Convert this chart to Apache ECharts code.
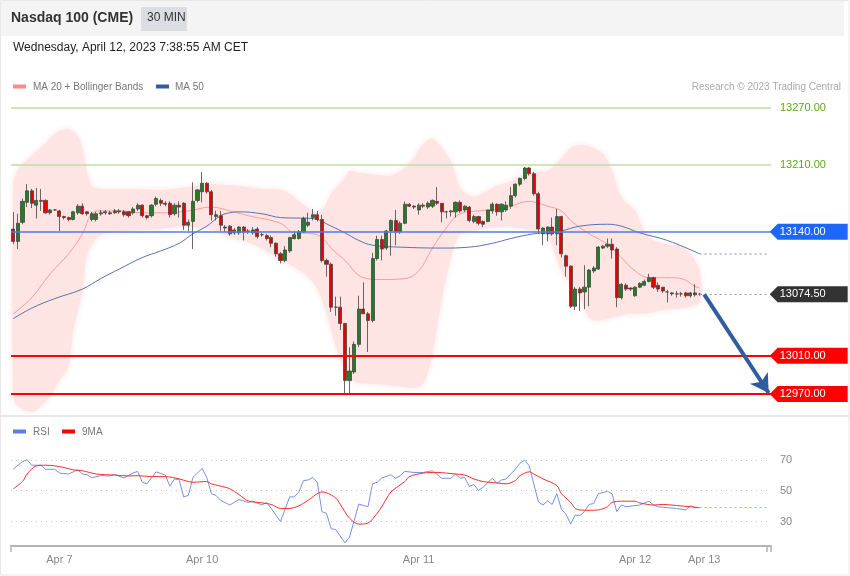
<!DOCTYPE html>
<html><head><meta charset="utf-8">
<script src="https://cdn.jsdelivr.net/npm/echarts@6/dist/echarts.min.js"></script>
<style>html,body{margin:0;padding:0;background:#fff}#c{width:850px;height:576px}</style>
</head><body><div id="c"></div><script>
// ---- candle data (30 min) ----
const opens = [13143,13130,13150,13171,13183,13168,13172,13173,13160,13163,13162,13156,13155,13153,13160,13167,13161,13153,13153,13159,13160,13160,13160,13162,13161,13161,13160,13164,13168,13157,
13157,13169,13173,13170,13170,13159,13168,13170,13147,13151,13173,13182,13191,13182,13156,13157,13145,13146,13139,13139,13145,13140,13139,13143,13137,13136,13134,13128,13117,13110,
13120,13133,13133,13140,13147,13155,13158,13153,13110,13106,13061,13061,13044,12984,12993,13022,13059,13054,13047,13112,13132,13123,13141,13152,13140,13149,13169,13167,13163,13168,
13166,13167,13172,13170,13161,13161,13161,13171,13163,13166,13151,13156,13151,13151,13162,13169,13161,13163,13167,13178,13190,13196,13207,13201,13180,13138,13138,13145,13138,13156,
13115,13104,13062,13080,13077,13082,13099,13101,13123,13125,13127,13122,13071,13084,13081,13073,13082,13084,13088,13092,13084,13082,13077,13076,13075,13075,13076,13073,13076,13074.5];
const closes = [13130,13149,13172,13183,13170,13173,13173,13160,13163,13163,13156,13155,13153,13161,13167,13159,13159,13159,13159,13160,13161,13159,13162,13161,13158,13157,13164,13168,13157,13155,
13168,13175,13170,13169,13158,13168,13166,13147,13150,13172,13184,13191,13182,13158,13158,13147,13144,13138,13142,13145,13140,13141,13142,13135,13137,13133,13128,13117,13110,13121,
13134,13137,13140,13154,13150,13158,13153,13110,13106,13061,13061,13044,12984,12994,13022,13059,13054,13047,13112,13132,13122,13141,13152,13140,13149,13169,13167,13166,13168,13167,
13170,13173,13170,13161,13161,13162,13171,13162,13167,13152,13156,13149,13148,13163,13169,13161,13169,13168,13178,13190,13196,13207,13201,13180,13143,13144,13145,13138,13156,13117,
13104,13062,13080,13076,13082,13100,13102,13124,13125,13127,13121,13071,13085,13080,13080,13082,13086,13088,13092,13082,13080,13078,13077,13075,13075,13075,13073,13076,13074,13074.5];
const highs = [13161,13159,13175,13190,13185,13186,13185,13174,13164,13164,13163,13157,13156,13162,13169,13170,13162,13161,13161,13163,13163,13162,13164,13164,13163,13162,13166,13170,13169,13158,
13169,13177,13175,13172,13172,13170,13172,13171,13153,13192,13185,13203,13192,13184,13162,13162,13147,13147,13144,13146,13146,13143,13145,13145,13139,13138,13136,13129,13119,13125,
13135,13141,13142,13156,13160,13164,13162,13158,13112,13108,13072,13072,13044,13019,13025,13073,13087,13056,13118,13136,13136,13142,13153,13163,13151,13172,13170,13168,13170,13170,
13172,13174,13187,13170,13162,13163,13172,13173,13168,13167,13158,13157,13152,13163,13171,13170,13170,13172,13187,13191,13197,13208,13208,13203,13182,13145,13146,13155,13164,13157,
13116,13105,13082,13082,13105,13101,13104,13125,13126,13133,13133,13124,13086,13086,13082,13083,13087,13090,13096,13093,13087,13082,13079,13077,13078,13077,13077,13077,13085,13076];
const lows = [13127,13122,13148,13166,13165,13154,13162,13159,13158,13162,13141,13153,13151,13152,13158,13158,13157,13151,13151,13157,13158,13158,13159,13159,13156,13155,13158,13162,13155,13153,
13155,13167,13167,13167,13155,13157,13155,13142,13141,13122,13171,13171,13180,13152,13152,13141,13140,13136,13137,13137,13131,13138,13137,13133,13135,13131,13124,13114,13107,13108,
13118,13132,13132,13139,13145,13152,13151,13108,13093,13056,13052,13037,12969,12970,12991,13019,13054,13014,13045,13110,13110,13121,13115,13126,13138,13148,13166,13164,13158,13165,
13164,13165,13168,13150,13154,13156,13155,13160,13161,13150,13149,13147,13145,13150,13159,13157,13152,13161,13164,13176,13188,13194,13199,13178,13138,13126,13130,13136,13126,13113,
13093,13060,13058,13057,13059,13062,13097,13100,13122,13123,13112,13061,13069,13078,13078,13072,13081,13083,13087,13080,13077,13076,13066,13073,13071,13072,13071,13071,13072,13073];

// ---- indicators [candle index, value] ----
const bbUpper = [[0,13190],[1,13205],[4,13220],[7,13233],[9,13243],[12,13248],[14,13240],[15,13228],[16,13203],[17,13188],[19,13185],[25,13185],[32,13184],[38,13187],[43,13190],[49,13188],[54,13185],[58,13184],[60,13180],[62,13172],[65,13162],[67,13162],[69,13180],[72,13197],[73,13204],[75,13202],[80,13199],[82,13199],[85,13207],[87,13218],[89,13232],[91,13238],[93,13228],[95,13214],[97,13186],[99,13178],[101,13178],[105,13188],[108,13193],[112,13202],[116,13204],[119,13217],[121,13228],[123,13231],[125,13230],[128,13222],[130,13204],[132,13176],[135,13162],[137,13141],[139,13131],[142,13127],[145,13125],[147,13117],[149,13099]];
const bbLower = [[0,12968],[1,12957],[4,12951],[6,12957],[8,12968],[10,12984],[12,12999],[13,13036],[15,13078],[16,13115],[18,13133],[20,13139],[25,13141],[32,13143],[36,13146],[41,13144],[44,13141],[47,13135],[51,13129],[55,13120],[58,13110],[60,13106],[62,13100],[64,13093],[66,13080],[68,13055],[70,13020],[72,12995],[74,12983],[76,12981],[80,12980],[84,12978],[87,12976],[89,12981],[91,13012],[93,13068],[95,13113],[97,13138],[100,13141],[103,13144],[107,13146],[110,13144],[113,13141],[116,13136],[119,13099],[123,13071],[125,13050],[127,13047],[130,13050],[134,13054],[138,13055],[141,13058],[145,13060],[149,13066]];
const ma20 = [[0,13054],[4,13071],[8,13096],[12,13117],[15,13138],[17,13159],[19,13162],[23,13162],[28,13160],[33,13160],[38,13162],[43,13166],[47,13162],[51,13157],[58,13149],[61,13139],[65,13138],[67,13134],[69,13123],[72,13110],[76,13092],[80,13090],[85,13091],[88,13099],[91,13123],[94,13144],[97,13159],[101,13162],[106,13164],[108,13167],[112,13172],[114,13170],[116,13167],[119,13162],[121,13152],[125,13138],[129,13127],[132,13113],[135,13099],[138,13092],[142,13092],[145,13091],[148,13083],[149,13081]];
const ma50 = [[0,13049],[4,13060],[9,13070],[15,13080],[19,13091],[23,13101],[28,13113],[32,13120],[36,13128],[39,13138],[42,13146],[45,13157],[47,13160],[49,13161],[54,13159],[58,13155],[65,13154],[69,13146],[72,13139],[75,13131],[78,13126],[84,13124],[93,13123],[99,13124],[104,13128],[108,13133],[113,13138],[116,13139],[119,13141],[123,13146],[129,13148],[132,13146],[136,13139],[142,13131],[149,13117]];
const rsi = [[0,64.0],[1,66.6],[2,68.9],[3,70.2],[4,66.6],[6,66.6],[7,64.0],[9,64.0],[10,61.5],[12,60.9],[14,63.6],[15,60.9],[16,60.4],[17,58.5],[19,59.8],[21,59.6],[22,60.6],[24,58.3],[26,61.5],[27,62.6],[28,55.5],[29,54.5],[31,62.3],[33,60.2],[34,53.0],[35,57.7],[36,57.2],[37,46.0],[38,47.0],[39,58.7],[41,64.5],[42,58.7],[43,48.1],[44,47.0],[45,43.8],[47,40.7],[49,44.3],[51,42.4],[52,43.2],[54,40.7],[55,42.4],[56,38.5],[58,30.0],[60,46.0],[61,46.0],[62,49.2],[63,56.6],[64,57.0],[65,58.7],[66,55.5],[67,36.4],[68,35.3],[69,25.3],[70,24.7],[72,16.2],[73,19.8],[75,41.3],[77,39.6],[78,54.5],[79,55.5],[80,58.3],[82,60.4],[83,58.1],[84,59.8],[85,62.6],[87,61.9],[89,61.9],[91,63.0],[93,58.1],[95,58.1],[96,60.9],[97,58.1],[98,58.7],[99,52.8],[100,54.1],[101,50.2],[102,52.3],[104,58.1],[105,54.9],[106,57.0],[107,57.7],[109,64.0],[110,67.9],[111,70.0],[112,66.2],[114,42.8],[115,40.7],[116,43.4],[117,41.1],[118,48.1],[119,37.9],[120,34.7],[121,28.3],[122,34.3],[123,33.8],[124,36.4],[125,41.1],[126,41.7],[127,48.1],[129,49.6],[130,48.1],[131,36.4],[132,40.7],[133,39.6],[136,40.7],[138,43.2],[139,40.7],[140,39.6],[142,39.0],[144,38.5],[146,37.5],[147,40.2],[148,39.0],[149,39.0]];
const rsiMA9 = [[0,51.3],[2,56.0],[3,60.9],[5,66.2],[7,66.6],[9,66.2],[11,65.1],[13,63.6],[15,63.0],[18,60.9],[22,60.2],[25,59.6],[27,59.8],[30,59.2],[33,59.2],[36,57.7],[39,55.5],[42,56.0],[43,54.5],[46,52.3],[47,51.3],[49,47.5],[51,43.4],[54,42.1],[56,41.1],[58,38.5],[60,38.5],[62,40.2],[64,43.8],[67,49.2],[68,48.7],[70,45.3],[71,41.1],[73,32.1],[75,28.3],[77,29.0],[79,35.3],[80,39.6],[82,49.2],[85,56.0],[86,59.2],[89,61.5],[92,61.9],[94,61.5],[96,60.9],[98,60.2],[100,57.7],[102,56.0],[105,55.1],[107,54.5],[109,56.6],[110,59.8],[112,62.3],[113,60.9],[115,57.7],[118,53.4],[119,48.1],[121,42.4],[122,38.5],[123,37.5],[125,37.3],[127,37.5],[129,39.6],[130,42.4],[132,43.2],[135,43.2],[136,42.1],[139,40.7],[141,41.1],[144,40.4],[147,39.6],[149,39.0]];

// ---- levels and ticks ----
const resistLevels = [13270, 13210];
const pivotLevel = 13140;
const supportLevels = [13010, 12970];
const targetLevel = 12971;
const rsiLevels = [70, 50, 30];
const tickIndex = [10, 41, 88, 135, 150];
const tickLabels = ['Apr 7', 'Apr 10', 'Apr 11', 'Apr 12', 'Apr 13'];
const slotCount = 165;

const lastIdx = closes.length - 1;
const lastIdxAxis = slotCount - 1;
const lastPrice = closes[lastIdx];
const categories = [];
for (let i = 0; i < slotCount; i++) {
  const k = tickIndex.indexOf(i);
  categories.push(k >= 0 ? tickLabels[k] : 'c' + i);
}
const candleData = opens.map((o, i) => [o, closes[i], lows[i], highs[i]]);
const fmt = v => v.toFixed(2);
const FF = 'Liberation Sans, Arial, sans-serif';
const tagPath = 'path://M0,8L8,0L78,0L78,16L8,16Z';
function tag(val, color) {
  return { coord: [lastIdxAxis, val], symbol: tagPath, symbolSize: [78, 16], symbolOffset: [40, 0],
    itemStyle: { color: color },
    label: { show: true, position: 'inside', offset: [-6, 0], formatter: fmt(val), color: '#fff',
      fontSize: 11, fontFamily: FF } };
}

const chart = echarts.init(document.getElementById('c'), null, { renderer: 'canvas' });
const option = {
  animation: false,
  backgroundColor: '#fff',
  grid: [
    { left: 11, width: 760, top: 98.4, height: 314.6 },
    { left: 11, width: 760, top: 429.25, height: 116.75 }
  ],
  xAxis: [
    { type: 'category', gridIndex: 0, data: categories, boundaryGap: true, show: false },
    { type: 'category', gridIndex: 1, data: categories, boundaryGap: true,
      axisLine: { show: true, lineStyle: { color: '#b5b5b5', width: 2 } },
      axisTick: { show: true, length: 6, lineStyle: { color: '#b5b5b5', width: 1.5 },
        interval: (i) => i === 0 || i === lastIdxAxis },
      axisLabel: { interval: (i) => tickIndex.indexOf(i) >= 0, color: '#888', fontSize: 11, fontFamily: FF, margin: 8 },
      splitLine: { show: false } }
  ],
  yAxis: [
    { type: 'value', gridIndex: 0, min: 12950, max: 13280, show: false, splitLine: { show: false } },
    { type: 'value', gridIndex: 1, min: 14.06, max: 90, show: false, splitLine: { show: false } }
  ],
  graphic: [
    { type: 'rect', shape: { x: 0.5, y: 0.5, width: 848.5, height: 574.5 }, style: { fill: 'none', stroke: '#e8e8e8' }, z: -10 },
    { type: 'rect', shape: { x: 1, y: 1, width: 843, height: 35 }, style: { fill: '#f4f4f4' }, z: -9 },
    { type: 'line', shape: { x1: 0, y1: 416, x2: 850, y2: 416 }, style: { stroke: '#e8e8e8', lineWidth: 2 }, z: -9 },
    { type: 'text', left: 11, top: 11, style: { text: 'Nasdaq 100 (CME)', font: 'bold 14px ' + FF, fill: '#333' } },
    { type: 'rect', shape: { x: 141, y: 7, width: 46, height: 24 }, style: { fill: '#dcdde2' } },
    { type: 'text', left: 147, top: 12, style: { text: '30 MIN', font: '12px ' + FF, fill: '#333' } },
    { type: 'text', left: 13, top: 42, style: { text: 'Wednesday, April 12, 2023 7:38:55 AM CET', font: '12px ' + FF, fill: '#222' } },
    { type: 'rect', shape: { x: 13, y: 84.5, width: 13, height: 4 }, style: { fill: '#ff8a8a' } },
    { type: 'text', left: 33, top: 82, style: { text: 'MA 20 + Bollinger Bands', font: '10px ' + FF, fill: '#777' } },
    { type: 'rect', shape: { x: 156, y: 84.5, width: 13, height: 4 }, style: { fill: '#2f5d9e' } },
    { type: 'text', left: 175, top: 82, style: { text: 'MA 50', font: '10px ' + FF, fill: '#777' } },
    { type: 'text', right: 9, top: 82, style: { text: 'Research \u00a9 2023 Trading Central', font: '10px ' + FF, fill: '#aaa' } },
    { type: 'rect', shape: { x: 13, y: 429.5, width: 13, height: 4 }, style: { fill: '#5b7fe0' } },
    { type: 'text', left: 33, top: 427, style: { text: 'RSI', font: '10px ' + FF, fill: '#777' } },
    { type: 'rect', shape: { x: 62, y: 429.5, width: 13, height: 4 }, style: { fill: '#ff0000' } },
    { type: 'text', left: 82, top: 427, style: { text: '9MA', font: '10px ' + FF, fill: '#777' } }
  ],
  series: [
    { type: 'custom', name: 'BB', xAxisIndex: 0, yAxisIndex: 0, data: [[0, 13100]], silent: true, z: 1, clip: false,
      renderItem: (params, api) => {
        const pts = bbUpper.map(p => api.coord(p)).concat(bbLower.slice().reverse().map(p => api.coord(p)));
        return { type: 'polygon', shape: { points: pts, smooth: 0.3 },
          style: { fill: '#ffe4e4', shadowBlur: 6, shadowColor: '#ffe4e4' } };
      } },
    { type: 'line', name: 'MA20', xAxisIndex: 0, yAxisIndex: 0, data: ma20, smooth: 0.4, showSymbol: false, z: 3,
      lineStyle: { color: '#ff9a9a', width: 1 } },
    { type: 'line', name: 'MA50', xAxisIndex: 0, yAxisIndex: 0, data: ma50, smooth: 0.4, showSymbol: false, z: 3,
      lineStyle: { color: '#5274b5', width: 1 },
      markLine: { silent: true, symbol: 'none', label: { show: false },
        lineStyle: { color: '#aab4c8', type: [2, 3], width: 1.5 },
        data: [[{ coord: [lastIdx, ma50[ma50.length - 1][1]] }, { coord: [lastIdxAxis, ma50[ma50.length - 1][1]] }]] } },
    { type: 'candlestick', name: 'Price', xAxisIndex: 0, yAxisIndex: 0, data: candleData, barWidth: 3.6, z: 4,
      itemStyle: { color: '#237d23', color0: '#e60000', borderColor: '#444', borderColor0: '#444', borderWidth: 0.8 },
      markLine: { silent: true, symbol: 'none', precision: 2,
        data: [
          ...resistLevels.map(v => ({ yAxis: v, lineStyle: { color: '#bfdda8', width: 1.5, type: 'solid' },
            label: { show: true, position: 'end', distance: 9, formatter: fmt(v), color: '#5aa51a', fontSize: 11, fontFamily: FF } })),
          { yAxis: pivotLevel, lineStyle: { color: '#4f7de6', width: 1.5, type: 'solid' }, label: { show: false } },
          ...supportLevels.map(v => ({ yAxis: v, lineStyle: { color: '#ff0000', width: 2, type: 'solid' }, label: { show: false } })),
          [{ coord: [lastIdx, lastPrice], lineStyle: { color: '#999', type: [2, 3], width: 1 }, label: { show: false } },
           { coord: [lastIdxAxis, lastPrice] }],
          [{ coord: [lastIdx + 1, lastPrice], symbol: 'none', lineStyle: { color: '#2f5d9e', width: 4, type: 'solid' }, label: { show: false } },
           { coord: [lastIdxAxis, targetLevel], symbol: 'arrow', symbolSize: [16, 18] }]
        ] },
      markPoint: { silent: true,
        data: [ tag(pivotLevel, '#1f66ff'), tag(lastPrice, '#333333'), tag(supportLevels[0], '#ff0000'), tag(supportLevels[1], '#ff0000') ] } },
    { type: 'line', name: 'RSI', xAxisIndex: 1, yAxisIndex: 1, data: rsi, showSymbol: false, z: 3,
      lineStyle: { color: '#7592ea', width: 1 },
      markLine: { silent: true, symbol: 'none',
        data: [
          ...rsiLevels.map(v => ({ yAxis: v, lineStyle: { color: '#c4c4c4', type: [1, 4], width: 1 },
            label: { show: true, position: 'end', distance: 9, formatter: String(v), color: '#888', fontSize: 11, fontFamily: FF } })),
          [{ coord: [lastIdx, rsi[rsi.length - 1][1]], lineStyle: { color: '#9db2f0', type: [2, 3], width: 1 }, label: { show: false } },
           { coord: [lastIdxAxis, rsi[rsi.length - 1][1]] }]
        ] } },
    { type: 'line', name: '9MA', xAxisIndex: 1, yAxisIndex: 1, data: rsiMA9, smooth: 0.3, showSymbol: false, z: 4,
      lineStyle: { color: '#ff2a2a', width: 1 } }
  ]
};
chart.setOption(option);
</script></body></html>
